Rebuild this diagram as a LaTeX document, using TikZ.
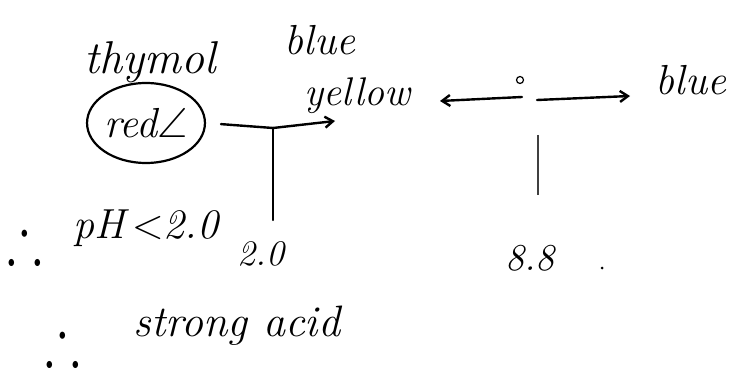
\documentclass[tikz,border=0pt]{standalone}
\usepackage{fix-cm}
\usepackage{amssymb}
\usetikzlibrary{arrows.meta,shapes.geometric}
\begin{document}
\begin{tikzpicture}[x=1pt,y=-1pt,
  hand/.style={font=\fontsize{42}{44}\selectfont\itshape, inner sep=0pt},
  stroke/.style={line width=2.4pt, line cap=round, line join=round},
  arr/.style={stroke, -{Straight Barb[length=8pt,width=11pt]}},
  thf/.style={inner sep=0pt, font=\fontsize{52}{54}\selectfont}]
\useasboundingbox (0,0) rectangle (730,379);
% top labels
\node[hand, font=\fontsize{46}{48}\selectfont\itshape] (thymol) at (150,62) {thymol};
\node[hand] (blue1) at (320,40) {blue};
\node[hand, font=\fontsize{40}{42}\selectfont\itshape] (yellow) at (357,96) {yellow};
\node[hand, draw, ellipse, line width=2.2pt, minimum width=115pt, minimum height=80pt, inner sep=0pt, font=\fontsize{42}{44}\selectfont\itshape] (red) at (146,123) {red$\angle$};
% left junction
\coordinate (j1) at (273,128);
\coordinate (t1) at (273,220);
\coordinate (tipY) at (335,121);
\draw[stroke, shorten <=15pt] (red.east) -- (j1);
\draw[arr] (j1) -- (tipY);
\draw[stroke] (j1) -- (t1);
\node[hand, font=\fontsize{36}{38}\selectfont\itshape] (p20) at (261,254) {2.0};
% right junction
\coordinate (j2) at (522,97);
\coordinate (tipL) at (440,101);
\coordinate (tipR) at (630,96);
\node[draw, circle, line width=1.2pt, minimum size=7pt, inner sep=0pt] (deg) at (520,80) {};
\draw[arr] (j2) -- (tipL);
\draw[arr] (j2) ++(15,3) coordinate (j2b) -- (tipR);
\node[hand] (blue2) at (691,80) {blue};
\coordinate (v1) at (538,135);
\coordinate (v2) at (538,195);
\draw[line width=1.5pt, black!75] (v1) -- (v2);
\node[hand, font=\fontsize{38}{40}\selectfont\itshape] (p88) at (530,258) {8.8};
\fill (602,268) circle (1.5pt);
% conclusions
\node[thf] (th1) at (25,238) {\scalebox{1}[1.3]{$\therefore$}};
\node[hand, font=\fontsize{42}{44}\selectfont\itshape] (ph) at (146,228) {pH\,$<$2.0};
\node[thf] (th2) at (63,340) {\scalebox{1}[1.3]{$\therefore$}};
\node[hand, font=\fontsize{44}{46}\selectfont\itshape] (acid) at (237,326) {strong acid};
\end{tikzpicture}
\end{document}
